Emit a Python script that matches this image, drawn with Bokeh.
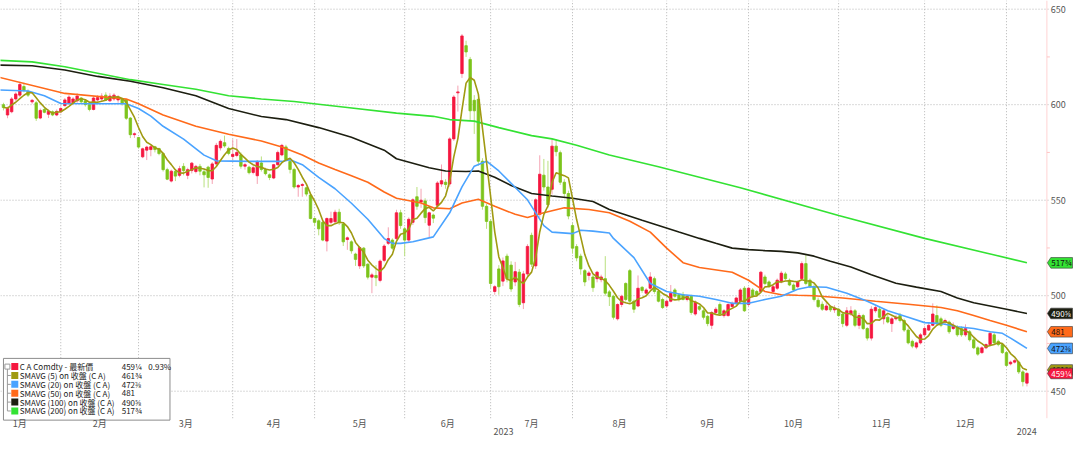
import numpy as np
import pandas as pd
from bokeh.plotting import figure
from bokeh.models import Range1d, Label
from bokeh.core.properties import value
from bokeh.embed import file_html
from bokeh.resources import INLINE

# ---------------- data ----------------
months = ["1月", "2月", "3月", "4月", "5月", "6月", "7月", "8月", "9月", "10月", "11月", "12月"]
years = ["2023", "2024"]
month_days = [20, 19, 23, 20, 22, 21, 20, 23, 20, 22, 21, 20]   # sessions per month (2023)
hidden_days = 6                                                  # January sessions before the window
y_ticks = [450, 500, 550, 600, 650]
y_minor = [475, 525, 575, 625]

open_ = [600, 594.6, 596.3, 603, 605, 609.5, 607, 601.5, 601, 593, 597.5, 595, 596.3, 594.6, 596.3,
         599.5, 600.5, 601, 602, 603.5, 602, 600, 597.5, 602.5, 603, 605, 602, 603, 602.5, 603,
         602.7, 593, 584.3, 582.8, 572.7, 576.2, 576.5, 578, 577, 574.4, 566, 560, 565, 563, 567.7,
         563, 565.5, 565, 567.7, 564.9, 567.3, 561.1, 569, 577.4, 580.1, 577.1, 572.9, 573.4, 573.7,
         567.8, 567.3, 564.5, 562.8, 569.5, 566.1, 563.3, 561.6, 568.6, 573.7, 577.9, 570.3, 566.1,
         556.9, 557.7, 556.5, 552.7, 540.4, 539.2, 538.4, 528.6, 538.4, 538.7, 543.7, 537.5, 529.4,
         528.2, 521.8, 515.6, 524.9, 516.5, 509.7, 510.6, 508, 518.5, 527.4, 529.1, 529.9, 543.4,
         535, 529.1, 538.4, 551.8, 549, 549.6, 536.9, 542.2, 547.3, 558.5, 559.4, 558.5, 582.1,
         606.2, 616.3, 630.9, 623.7, 602.3, 602.8, 570.4, 546.8, 538.9, 502.2, 514, 507.6, 520.7,
         516, 507.2, 512.3, 496.3, 511.4, 531.6, 515.6, 542.6, 563.1, 556.9, 555.7, 578.3, 574.9,
         559.4, 553.5, 536.7, 525.7, 520.7, 513.1, 510.6, 509.8, 508.9, 508.4, 508.9, 502, 499.7,
         487.9, 495.4, 506.4, 513.1, 497.1, 494.6, 504.4, 501.3, 503.9, 508.9, 502.2, 498, 494.6,
         497.1, 503, 500.5, 500.5, 498, 499.7, 490.4, 494.3, 492.1, 489.2, 484.5, 491.2, 495.4,
         489.6, 489.6, 494.3, 496, 497.1, 503.9, 495.4, 503, 502.2, 502.2, 509.8, 507.2, 502.2,
         503.9, 507.2, 511.4, 508.1, 505.6, 504.7, 508.9, 516.8, 508.1, 504.7, 497.6, 495.5, 492.6,
         494.3, 492.6, 492.9, 490.4, 484.5, 490.4, 492.1, 484.5, 489.6, 482.8, 477.8, 492.1, 492.9,
         487.9, 488.7, 485.4, 487.9, 489.6, 487, 482, 476.1, 473.1, 475.3, 479.5, 482, 484.5, 489.6,
         487.9, 486.2, 486.2, 482.8, 483.5, 482.8, 479.5, 481.1, 476.9, 472.7, 470.2, 472.7, 474.4,
         479.5, 476.1, 474.4, 470.2, 464.3, 465.2, 465.2, 460.1, 454.2]
high = [601, 599, 604, 606.5, 612, 611.5, 608, 603, 602, 598, 598.5, 597.5, 597, 597.5, 599,
        603.5, 605, 604, 606, 604, 603, 601, 604.5, 605, 606, 606.5, 606, 606, 605, 603.5,
        603, 593.5, 585.5, 583, 577.5, 578.5, 579, 578.5, 577.5, 575, 567, 566, 566, 568, 569.4,
        567, 570, 568.5, 569, 566, 568, 570, 580, 581.8, 583.8, 578, 581.8, 582, 575,
        569.5, 568, 568, 571, 572.9, 567, 564, 569, 576, 579.5, 579, 571, 567,
        558.5, 559, 557, 553, 541, 540, 539, 541, 544, 545, 545.5, 538, 531,
        529, 522.5, 526, 525.5, 517, 512, 516, 519, 527, 535.8, 530, 545, 545,
        536, 541, 551, 556.9, 556, 551, 544, 543, 560, 568.7, 561, 583, 605,
        610, 637, 633.5, 625, 605, 604, 572, 548, 540, 505.5, 516, 520, 522,
        518, 517.7, 514, 513, 527, 533, 551, 573.5, 571.6, 570.6, 582, 582, 576,
        561, 555, 538, 527, 522, 514, 513, 511, 513, 511, 520.7, 503, 500.5,
        496, 500.5, 507, 514, 498, 510.6, 505, 504, 512.3, 510, 503, 499, 498,
        505.6, 504, 501, 502, 500.5, 500.5, 497.5, 495, 493, 490, 492, 494, 496.5,
        493, 496, 497, 499.5, 504, 505, 504.5, 504, 503, 513, 511, 508, 505.5,
        509, 513, 512.5, 509, 506.5, 508, 518, 521.5, 509, 506, 499, 497, 497,
        495, 495, 493.5, 491, 494, 494.5, 493, 491, 490.5, 483.5, 494.5, 495, 494,
        493, 490, 489, 490, 491, 488, 483, 477, 476, 480.5, 484, 486, 496, 495,
        489, 488, 487, 486, 484.5, 484, 485, 482, 478, 473.5, 473.5, 475, 481.5,
        480.5, 477, 475, 471, 466, 467, 466, 461, 460]
low = [597, 592.9, 595.5, 602, 604, 606.5, 604, 600.5, 591.5, 592.4, 595.5, 593, 594, 594, 595.5,
       599, 600, 600, 601, 600.5, 599, 596.5, 597, 601.5, 602, 602, 601.5, 602, 601, 599.5,
       592, 582.5, 582.6, 577, 572, 571, 573, 575, 573.5, 565, 560.5, 559.3, 560, 562, 563,
       561, 564, 564, 563, 556.7, 556.5, 558.5, 568, 576, 577.5, 573.5, 571.2, 572.5, 566.5,
       566, 563.5, 563.5, 558.5, 565, 563, 560.5, 561, 568, 573, 570.5, 564, 556,
       551.8, 551.8, 552, 540, 536.5, 531.6, 528.5, 523.2, 537.5, 538, 537, 526, 524,
       522, 515.6, 514, 514.5, 508.5, 501.3, 505, 507, 517.5, 526.5, 524, 529, 535,
       520.7, 528, 537, 545, 546, 538, 530.4, 538, 546, 557, 556, 557, 581,
       596.4, 614, 625, 592, 584.7, 568, 545, 535, 504, 500.5, 500.5, 505, 507,
       502, 505, 494, 493, 510, 515, 514, 541, 555, 546, 553, 573, 558,
       551, 540, 522, 518, 511, 505, 508, 502, 507, 507, 500, 494.6, 487.5,
       487, 494, 497, 496, 491, 494, 501.5, 500.5, 503, 501, 496.5, 493, 493.5,
       496.5, 499, 497, 497.5, 497, 490, 489.5, 492, 487.5, 484, 482.5, 490, 489.5,
       488.5, 489, 493.5, 495, 496, 491.5, 494.5, 499, 499.5, 501.5, 505.5, 504, 501.5,
       503, 506.5, 508, 505, 502, 504, 508, 505.5, 504, 497, 493.5, 492, 492,
       491.5, 491, 489, 483.5, 483.5, 489.5, 483.5, 482.5, 482, 476.5, 476.5, 491, 488,
       485, 485.5, 481, 487, 486, 481, 474.5, 472.5, 472, 474.5, 478.5, 481.5, 484, 484.5,
       483.5, 485, 480, 482, 478.5, 478.5, 478.5, 476, 472, 468.5, 469.5, 472, 473.5,
       474.5, 473.5, 469.5, 463, 463.5, 464.5, 459, 452.5, 452.5]
close = [598.5, 598, 603, 605.6, 610.6, 607.5, 605, 602.3, 592.9, 597, 596, 596.5, 594.6, 596.5, 598,
         602.5, 604, 603, 604.5, 601.5, 600, 597.5, 603.5, 603.7, 604.5, 602.5, 604.5, 605, 604, 600.5,
         592.9, 584.3, 584.8, 577.8, 576.9, 577.8, 578, 576.5, 574.4, 566, 561, 565.2, 562.6, 566.5, 565.5,
         566, 569.4, 567.7, 565.2, 563.3, 561.9, 569, 578.7, 580.8, 578.4, 574.5, 574, 575, 567.8,
         568.6, 564.4, 567, 570.3, 566.1, 563.9, 561.9, 568.6, 575, 578.7, 571.2, 566.1, 556.9,
         557.7, 558.2, 553.2, 540.4, 538.4, 535, 529.1, 540.4, 540.4, 543.7, 538.4, 528.2, 530.3,
         523.5, 519, 525.2, 515.6, 509.7, 510.9, 509.4, 518.1, 526, 529.9, 524.9, 543.4, 536.7,
         529.1, 540, 550.2, 546.8, 550, 540.9, 543.4, 540.6, 559, 560.2, 558.2, 582.1, 604,
         606.7, 636, 627.6, 596.8, 596.8, 570.4, 546.8, 538.9, 506.4, 504.7, 504.7, 518.2, 508.9,
         503.5, 512.6, 495.4, 511.4, 525.8, 516.5, 550.2, 563.6, 556.9, 547.6, 578.3, 575.4, 559.4,
         553.5, 541.7, 524.9, 519.8, 514, 507.2, 511.9, 504.2, 512.3, 509.8, 501.3, 499.5, 488.7,
         495.4, 499.7, 498, 497.1, 492.9, 503.9, 502.7, 503, 509.8, 502.2, 497.1, 493.8, 497.1,
         501.3, 499.7, 498, 498, 499.7, 491.2, 496.6, 492.9, 488.7, 485.4, 491.2, 492.9, 490.4,
         492.1, 495.4, 496, 498.8, 503, 492.1, 503.9, 500, 500.5, 512.3, 506.4, 505, 504.7,
         508.1, 511.8, 508.9, 505.6, 503, 507.2, 516.8, 506.4, 504.7, 498, 494.3, 492.9, 494.6,
         492.6, 493.5, 489.6, 485.4, 492.1, 492.1, 484.5, 489.6, 482.8, 477.8, 492.9, 493.8, 488.7,
         492.1, 486.2, 487.9, 488.7, 487, 482, 475.3, 473.6, 475.3, 479.5, 482.8, 484.5, 490.4, 485.4,
         484.5, 487, 481.1, 484.5, 479.5, 479.5, 482.8, 476.9, 472.7, 469.4, 472.7, 474.4, 480.3,
         475.3, 474.4, 470.2, 463.5, 465.2, 466, 460.1, 455, 459.3]

# moving averages (session index within the window, value)
sma20_day = [-1, 6, 10, 14, 22, 30, 33, 36, 39, 44, 49, 52, 60, 68, 70, 73, 77, 81, 85, 89, 93, 95,
             97, 100, 105, 109, 112, 115, 118, 121, 128, 132, 134, 139, 141, 144, 148, 149, 154, 158,
             162, 166, 170, 174, 178, 182, 186, 190, 194, 197, 201, 206, 211, 216, 221, 225, 229, 233,
             237, 241, 244, 246, 250]
sma20 = [607.7, 607.2, 604.7, 600.6, 600.5, 600.5, 598, 594, 588.7, 582, 573.6, 570.6, 570.3, 570.3,
         571.2, 568.6, 561.9, 556, 548.4, 540, 529.9, 527.4, 527.4, 528.2, 530.8, 543.4, 557, 567.8,
         570.4, 565.3, 550.2, 536.7, 533.3, 532.5, 534.3, 533.8, 532.8, 530, 519.9, 506.4, 502.2,
         500.5, 499.7, 498, 496, 496, 498, 499.7, 503.4, 504.7, 504.4, 501.3, 497.1, 492.1, 488.7,
         485.9, 485.4, 483.7, 482.8, 481.1, 480.3, 477.8, 472.4]
sma50_day = [-1, 15, 30, 33, 39, 47, 55, 63, 68, 73, 77, 81, 85, 89, 93, 96, 102, 105, 109, 112, 116,
             120, 125, 128, 132, 137, 143, 148, 153, 158, 162, 166, 170, 178, 182, 186, 190, 194, 198,
             205, 213, 221, 229, 233, 237, 241, 245, 250]
sma50 = [614.3, 605.9, 603, 600.5, 594.6, 588.7, 584.5, 581, 577.9, 573.7, 569.5, 566.1, 562.8, 559.4,
         554.3, 551, 548.5, 546, 545.5, 548.5, 550.5, 546.8, 542.6, 540.9, 543.4, 546, 545.1, 543.4,
         539, 533.3, 524.9, 517.3, 514.8, 512.3, 508.1, 502.2, 500.5, 500.2, 500, 498.8, 497.1, 495.5,
         493.8, 492.1, 489.6, 487, 484.5, 481.1]
sma100_day = [-1, 7, 15, 23, 31, 39, 47, 55, 63, 69, 77, 85, 93, 96, 104, 108, 113, 116, 120, 124, 129,
              134, 139, 144, 148, 156, 165, 170, 174, 178, 182, 186, 190, 194, 198, 202, 207, 212, 218,
              223, 229, 233, 237, 241, 245, 250]
sma100 = [620.7, 620.4, 618.2, 614.8, 612.3, 608.9, 604.7, 598, 593.8, 592.2, 588, 583, 576.2, 571.7,
          567, 565.3, 565, 565.3, 562, 557.7, 553.5, 552.2, 551, 549.3, 545.1, 539.5, 533.3, 530, 527.4,
          524.9, 524.1, 523.6, 523.2, 522.4, 520.7, 518, 515, 511, 506.5, 504.5, 502.2, 498.8, 496.3,
          494.6, 492.9, 490.7]
sma200_day = [-1, 7, 15, 23, 31, 39, 47, 55, 63, 71, 84, 96, 105, 109, 115, 121, 129, 134, 140, 148,
              160, 180, 204, 225, 240, 250]
sma200 = [623.2, 622.4, 619.9, 616.5, 613.1, 610.6, 608.1, 604.7, 603, 601.7, 598.5, 595.6, 593.9,
          592.2, 591.4, 588, 583.8, 582.1, 578.8, 573.7, 567.5, 556.5, 542, 530, 522.4, 517.2]

legend_names = ["C A Comdty - 最新價", "SMAVG (5)  on 收盤 (C A)", "SMAVG (20)  on 收盤 (C A)",
                "SMAVG (50)  on 收盤 (C A)", "SMAVG (100)  on 收盤 (C A)", "SMAVG (200)  on 收盤 (C A)"]
legend_values = ["459¼", "461¾", "472⅜", "481", "490⅝", "517¾"]
last_change = "0.93%"

# ---------------- styles ----------------
RED, GREEN = "#f5173f", "#7cc41c"
RED_WICK, GREEN_WICK = "#f4a3b3", "#b9e07f"
C5, C20, C50, C100, C200 = "#a09a12", "#4aa3ff", "#ff6a1a", "#1c1e10", "#33e233"
FONT = "Noto Sans CJK TC"
GRID = "#b4b4b4"
AXIS_TXT = "#555555"


def X(px):   # reference pixel -> session coordinate
    return (px - 3) / 4.155 + hidden_days


def Y(py):   # reference pixel -> price
    return 650 - (py - 9) / 1.98


o = np.array(open_, float)
h = np.array(high, float)
l = np.array(low, float)
c = np.array(close, float)
n = len(c)
xs = np.arange(n) + hidden_days
up = c >= o
sma5 = pd.Series(c).rolling(5, min_periods=1).mean().to_numpy()

p = figure(width=1073, height=437, x_range=Range1d(X(0), X(1089)), y_range=Range1d(Y(453), Y(0)),
           x_axis_location=None, y_axis_location=None, toolbar_location=None, output_backend="svg",
           min_border_left=0, min_border_top=0, min_border_bottom=0, min_border_right=0)
p.outline_line_color = None
p.background_fill_color = "white"
p.border_fill_color = "white"
p.ygrid.visible = False
p.xgrid.visible = False

bottom = Y(433)      # lower edge of the price pane
edge = X(1062)       # right edge of the price pane

# horizontal grid and price scale
p.segment(x0=[X(0)] * len(y_ticks), y0=y_ticks, x1=[X(1065)] * len(y_ticks), y1=y_ticks,
          line_color=GRID, line_width=1, line_dash="1 2")
p.segment(x0=[edge], y0=[bottom], x1=[edge], y1=[Y(0)], line_color="#ffd3d3", line_width=1)
p.segment(x0=[edge] * len(y_minor), y0=y_minor, x1=[X(1065)] * len(y_minor), y1=y_minor,
          line_color="#ffc4c4", line_width=1)
for t in y_ticks:
    p.add_layout(Label(x=X(1066), y=t, text=str(t), text_font=FONT, text_font_size="9px",
                       text_color=AXIS_TXT, text_baseline="middle", text_align="left"))

# month structure: vertical grid at the first session of each month, labels centred on months
starts = np.concatenate([[0], np.cumsum(month_days)])
month_first = starts[1:]
month_centers = (starts[:-1] + starts[1:]) / 2.0
p.segment(x0=month_first, y0=[bottom] * len(month_first), x1=month_first, y1=[Y(0)] * len(month_first),
          line_color=GRID, line_width=1, line_dash="1 2")
for mc, m in zip(month_centers, months):
    p.add_layout(Label(x=mc, y=Y(438.5), text=m, text_font=FONT, text_font_size="9px",
                       text_color=AXIS_TXT, text_baseline="middle", text_align="center"))
x0, x1 = X(0), X(1062)
year_split = starts[-1]
year_centers = [(x0 + year_split) / 2.0, (year_split + x1) / 2.0]
for yc, yt in zip(year_centers, years):
    p.add_layout(Label(x=yc, y=Y(446.5), text=yt, text_font=FONT, text_font_size="9px",
                       text_color=AXIS_TXT, text_baseline="middle", text_align="center"))

# candles
wick_col = np.where(up, RED_WICK, GREEN_WICK)
body_col = np.where(up, RED, GREEN)
p.segment(x0=xs, y0=h, x1=xs, y1=l, line_color=list(wick_col), line_width=1)
p.vbar(x=xs, width=0.6, top=np.maximum(o, c), bottom=np.minimum(o, c),
       fill_color=list(body_col), line_color=list(body_col), line_width=0.8)

# moving averages
p.line(np.array(sma200_day) + hidden_days, sma200, line_color=C200, line_width=1.6)
p.line(np.array(sma100_day) + hidden_days, sma100, line_color=C100, line_width=1.6)
p.line(np.array(sma50_day) + hidden_days, sma50, line_color=C50, line_width=1.6)
p.line(np.array(sma20_day) + hidden_days, sma20, line_color=C20, line_width=1.6)
p.line(xs, sma5, line_color=C5, line_width=1.6)

# legend box
p.quad(left=X(3), right=X(172), top=Y(371), bottom=Y(435), fill_color="white",
       line_color="#8c8c8c", line_width=1)
rows_y = [Y(v) for v in (379.5, 388.7, 397.9, 407.1, 416.3, 425.5)]
colors = [RED, C5, C20, C50, C100, C200]
p.rect(x=[X(14.5)] * 6, y=rows_y, width=7, height=7, width_units="screen", height_units="screen",
       fill_color=colors, line_color=None)
p.segment(x0=[X(7)] * 6, y0=rows_y[1:] + [rows_y[0]], x1=[X(10.5)] * 5 + [X(7)],
          y1=rows_y[1:] + [rows_y[-1]], line_color="#9a9a9a", line_width=1)
p.rect(x=[X(7)], y=[rows_y[0]], width=5, height=5, width_units="screen", height_units="screen",
       fill_color="white", line_color="#9a9a9a")
for ry, name, val in zip(rows_y, legend_names, legend_values):
    p.add_layout(Label(x=X(19.5), y=ry, text=name, text_font=FONT, text_font_size="8px",
                       text_color="#222222", text_baseline="middle", text_align="left"))
    p.add_layout(Label(x=X(123), y=ry, text=val, text_font=FONT, text_font_size="8px",
                       text_color="#222222", text_baseline="middle", text_align="left"))
p.add_layout(Label(x=X(150), y=rows_y[0], text=last_change, text_font=FONT, text_font_size="8px",
                   text_color="#222222", text_baseline="middle", text_align="left"))

# right-hand value tags (arrow shaped), drawn in order so the last price is on top
half = 5.5 / 1.98
tags = [(sma200[-1], legend_values[5], C200, "#111111"),
        (sma100[-1], legend_values[4], C100, "white"),
        (sma50[-1], legend_values[3], C50, "#111111"),
        (sma20[-1], legend_values[2], C20, "#111111"),
        (sma5[-1], legend_values[1], C5, "#111111"),
        (c[-1], legend_values[0], RED, "white")]
for ty, txt, bg, fg in tags:
    p.patch(x=[X(1062.5), X(1066), X(1088), X(1088), X(1066)],
            y=[ty, ty + half, ty + half, ty - half, ty - half],
            fill_color=bg, line_color="#3a3a3a", line_alpha=0.6, line_width=1)
    p.text(x=[X(1066.5)], y=[ty], text=[txt], text_font=value(FONT), text_font_size="8px",
           text_color=fg, text_baseline="middle", text_align="left")

open("out.html", "w").write(file_html(p, INLINE))
